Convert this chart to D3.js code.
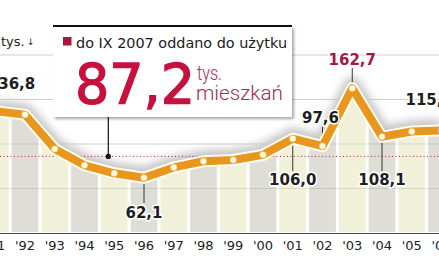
<!DOCTYPE html>
<meta charset="utf-8">
<style>
  body { margin: 0; background: #fff; }
  svg { display: block; font-family: "DejaVu Sans", sans-serif; }
  .tick-label { font-size: 13px; fill: #222; }
  .val-label { font-size: 15px; font-weight: bold; fill: #1e1e1e; paint-order: stroke; stroke: #fff; stroke-width: 3px; }
</style>
<body>
<div id="chart"></div>
<script src="https://d3js.org/d3.v7.min.js"></script>
<script>
  // housing completions in Poland, thousands of flats
  const years = [1991, 1992, 1993, 1994, 1995, 1996, 1997, 1998, 1999, 2000, 2001, 2002, 2003, 2004, 2005, 2006];
  const values = [136.8, 133.0, 94.4, 76.1, 67.1, 62.1, 73.7, 80.6, 82.0, 87.8, 106.0, 97.6, 162.7, 108.1, 114.1, 115.4];
  const tickLabels = ["'91", "'92", "'93", "'94", "'95", "'96", "'97", "'98", "'99", "'00", "'01", "'02", "'03", "'04", "'05", "'06"];
  const gridValues = [50, 100, 150, 200];
  const labelledYears = [1991, 1996, 2001, 2002, 2003, 2004, 2006];
  const highlightValue = 87.2;
  const headline = "do IX 2007 oddano do użytku";
  const unitLines = ["tys.", "mieszkań"];

  const width = 439, height = 268;
  const data = years.map((y, i) => ({year: y, value: values[i]}));
  const fmt = v => v.toFixed(1).replace(".", ",");

  const x = d3.scaleLinear().domain([1992, 2005]).range([25, 411.75]);
  const y = d3.scaleLinear().domain([0, 200]).range([233, 55]);

  const svg = d3.select("#chart").append("svg")
    .attr("width", width)
    .attr("height", height);

  const defs = svg.append("defs");
  defs.append("filter").attr("id", "blur")
    .attr("x", "-10%").attr("y", "-50%").attr("width", "120%").attr("height", "200%")
    .append("feGaussianBlur").attr("stdDeviation", 4);
  const sh = defs.append("filter").attr("id", "boxshadow")
    .attr("x", "-5%").attr("y", "-5%").attr("width", "115%").attr("height", "120%");
  sh.append("feDropShadow").attr("dx", 2).attr("dy", 2).attr("stdDeviation", 1.5)
    .attr("flood-color", "#000").attr("flood-opacity", 0.35);

  const area = d3.area().x(d => x(d.year)).y0(y(0)).y1(d => y(d.value));
  const line = d3.line().x(d => x(d.year)).y(d => y(d.value));

  defs.append("clipPath").attr("id", "under")
    .append("path").attr("d", area(data));

  // gridlines in the white part
  svg.append("g").selectAll("line")
    .data(gridValues)
    .join("line")
    .attr("x1", 0).attr("x2", width)
    .attr("y1", d => y(d)).attr("y2", d => y(d))
    .attr("stroke", "#cfcfcf").attr("stroke-width", 1);

  // soft halo above the curve
  svg.append("path")
    .attr("d", line(data))
    .attr("fill", "none")
    .attr("stroke", "#c4c4c4")
    .attr("stroke-width", 18)
    .attr("stroke-linejoin", "round")
    .attr("transform", "translate(0,-2)")
    .attr("filter", "url(#blur)");

  // striped columns below the curve
  const stripes = svg.append("g").attr("clip-path", "url(#under)");
  const colW = x(1993) - x(1992);
  const stripeYears = d3.range(1990, 2008);
  stripes.append("rect")
    .attr("x", 0).attr("y", 0).attr("width", width).attr("height", y(0))
    .attr("fill", "#fff");
  stripes.selectAll("rect.col")
    .data(stripeYears)
    .join("rect")
    .attr("class", "col")
    .attr("x", d => x(d) - colW / 2 + 1.5)
    .attr("width", colW - 3)
    .attr("y", 0)
    .attr("height", y(0) - 1)
    .attr("fill", d => d % 2 === 0 ? "#deded7" : "#f1f1d9");
  stripes.selectAll("line.grid")
    .data(gridValues)
    .join("line")
    .attr("class", "grid")
    .attr("x1", 0).attr("x2", width)
    .attr("y1", d => y(d)).attr("y2", d => y(d))
    .attr("stroke", "#000").attr("stroke-opacity", 0.1);

  // dotted line at the 2007 level
  svg.append("line")
    .attr("x1", 0).attr("x2", width)
    .attr("y1", y(highlightValue) + 1).attr("y2", y(highlightValue) + 1)
    .attr("stroke", "#a8283c")
    .attr("stroke-width", 1)
    .attr("stroke-dasharray", "1,2.5");

  // axis baseline
  svg.append("line")
    .attr("x1", 0).attr("x2", width)
    .attr("y1", y(0) + 0.5).attr("y2", y(0) + 0.5)
    .attr("stroke", "#4a4a4a").attr("stroke-width", 1);

  svg.append("g").selectAll("text")
    .data(years)
    .join("text")
    .attr("class", "tick-label")
    .attr("x", d => x(d))
    .attr("y", 250)
    .attr("text-anchor", "middle")
    .text((d, i) => tickLabels[i]);

  // leader lines for value labels
  const place = {
    1991: {dx: 40, base: 89, anchor: "end", lead: null},
    1996: {dx: 0, base: 218, anchor: "middle", lead: 203},
    2001: {dx: 0, base: 185, anchor: "middle", lead: 171},
    2002: {dx: -2, base: 123, anchor: "middle", lead: 126},
    2003: {dx: 0, base: 65, anchor: "middle", lead: 68},
    2004: {dx: 0, base: 185, anchor: "middle", lead: 171},
    2006: {dx: -36, base: 105, anchor: "start", lead: null}
  };
  const labelled = data.filter(d => labelledYears.includes(d.year));

  svg.append("g").selectAll("line")
    .data(labelled.filter(d => place[d.year].lead !== null))
    .join("line")
    .attr("x1", d => x(d.year)).attr("x2", d => x(d.year))
    .attr("y1", d => y(d.value)).attr("y2", d => place[d.year].lead)
    .attr("stroke", "#333").attr("stroke-width", 1);

  // the curve
  svg.append("path")
    .attr("d", line(data))
    .attr("fill", "none")
    .attr("stroke", "#fffdf2")
    .attr("stroke-width", 12)
    .attr("stroke-linejoin", "round");
  svg.append("path")
    .attr("d", line(data))
    .attr("fill", "none")
    .attr("stroke", "#e8961e")
    .attr("stroke-width", 8)
    .attr("stroke-linejoin", "round");
  svg.append("g").selectAll("circle")
    .data(data)
    .join("circle")
    .attr("cx", d => x(d.year))
    .attr("cy", d => y(d.value))
    .attr("r", 3.3)
    .attr("fill", "#fffbe8")
    .attr("stroke", "#f0b450")
    .attr("stroke-width", 0.6);

  svg.append("g").selectAll("text")
    .data(labelled)
    .join("text")
    .attr("class", "val-label")
    .attr("x", d => x(d.year) + place[d.year].dx)
    .attr("y", d => place[d.year].base)
    .attr("text-anchor", d => place[d.year].anchor)
    .style("fill", d => d.year === 2003 ? "#a5164b" : null)
    .text(d => fmt(d.value));

  // unit note top left
  svg.append("text")
    .attr("x", 1).attr("y", 46)
    .attr("font-size", 13)
    .attr("fill", "#222")
    .text("tys.");
  svg.append("text")
    .attr("x", 27).attr("y", 45)
    .attr("font-size", 9)
    .attr("fill", "#222")
    .text("↓");

  // callout box
  const bx = 53, by = 26, bw = 239, bh = 91;
  const leadX = x(1994.8);
  svg.append("line")
    .attr("x1", leadX).attr("x2", leadX)
    .attr("y1", by + bh).attr("y2", y(highlightValue) + 1)
    .attr("stroke", "#111").attr("stroke-width", 1.2);
  svg.append("circle")
    .attr("cx", leadX).attr("cy", y(highlightValue) + 1)
    .attr("r", 2.6).attr("fill", "#111");

  svg.append("rect")
    .attr("x", bx).attr("y", by).attr("width", bw).attr("height", bh)
    .attr("fill", "#fff")
    .attr("filter", "url(#boxshadow)");
  svg.append("line")
    .attr("x1", bx).attr("x2", bx + bw)
    .attr("y1", by).attr("y2", by)
    .attr("stroke", "#111").attr("stroke-width", 2);

  svg.append("rect")
    .attr("x", 63).attr("y", 37).attr("width", 8.5).attr("height", 8.5)
    .attr("fill", "#b0123c");
  svg.append("text")
    .attr("x", 76).attr("y", 48)
    .attr("font-size", 14.5)
    .attr("fill", "#1a1a1a")
    .attr("textLength", 211)
    .attr("lengthAdjust", "spacingAndGlyphs")
    .text(headline);
  svg.append("text")
    .attr("x", 75).attr("y", 103)
    .attr("font-size", 56)
    .attr("fill", "#c8103e")
    .attr("stroke", "#c8103e")
    .attr("stroke-width", 1.4)
    .attr("textLength", 120)
    .attr("lengthAdjust", "spacingAndGlyphs")
    .text(fmt(highlightValue));
  svg.append("text")
    .attr("x", 197).attr("y", 80)
    .attr("font-family", "Roboto, sans-serif")
    .attr("font-weight", 300)
    .attr("font-size", 21)
    .attr("fill", "#a82a5a")
    .attr("textLength", 25)
    .attr("lengthAdjust", "spacingAndGlyphs")
    .text(unitLines[0]);
  svg.append("text")
    .attr("x", 196).attr("y", 100)
    .attr("font-family", "Roboto, sans-serif")
    .attr("font-weight", 300)
    .attr("font-size", 21)
    .attr("fill", "#a82a5a")
    .attr("textLength", 87)
    .attr("lengthAdjust", "spacingAndGlyphs")
    .text(unitLines[1]);
</script>
</body>
</html>
